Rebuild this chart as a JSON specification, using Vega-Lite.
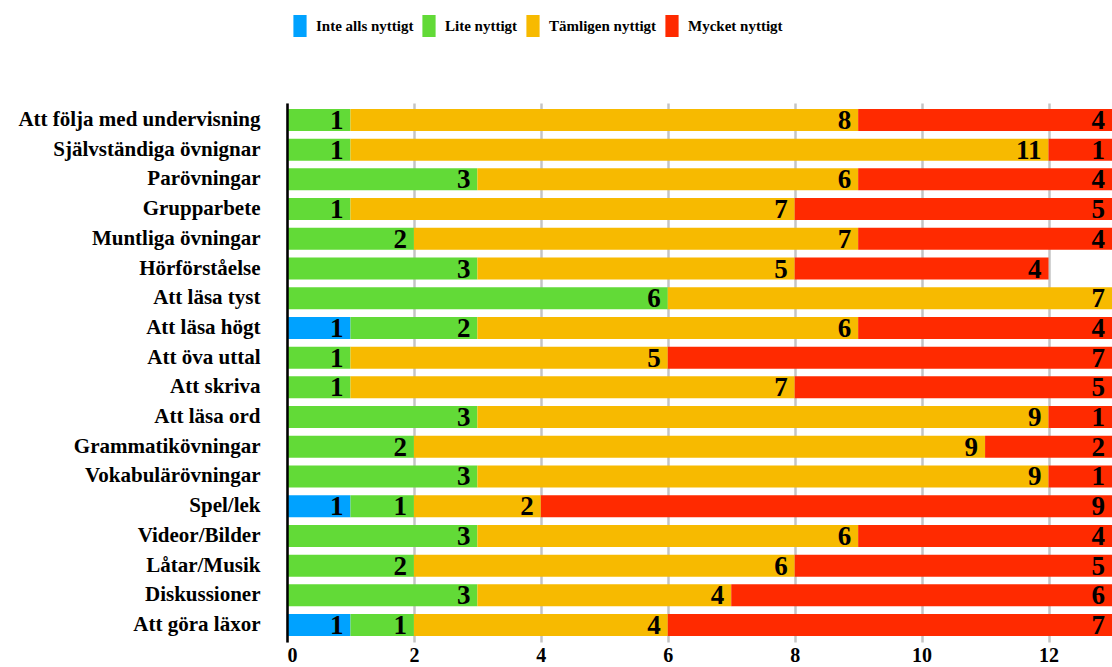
{
  "$schema": "https://vega.github.io/schema/vega-lite/v6.json",
  "autosize": {"type": "none"},
  "padding": {"left": 287, "top": 103, "right": 0, "bottom": 25},
  "width": 825,
  "height": 539,
  "background": "white",
  "config": {
    "view": {"stroke": null},
    "font": "Liberation Serif"
  },
  "data": {
    "values": [
      {"cat": "Att följa med undervisning", "s": "Inte alls nyttigt", "k": 1, "v": 0},
      {"cat": "Att följa med undervisning", "s": "Lite nyttigt", "k": 2, "v": 1},
      {"cat": "Att följa med undervisning", "s": "Tämligen nyttigt", "k": 3, "v": 8},
      {"cat": "Att följa med undervisning", "s": "Mycket  nyttigt", "k": 4, "v": 4},
      {"cat": "Självständiga övnignar", "s": "Inte alls nyttigt", "k": 1, "v": 0},
      {"cat": "Självständiga övnignar", "s": "Lite nyttigt", "k": 2, "v": 1},
      {"cat": "Självständiga övnignar", "s": "Tämligen nyttigt", "k": 3, "v": 11},
      {"cat": "Självständiga övnignar", "s": "Mycket  nyttigt", "k": 4, "v": 1},
      {"cat": "Parövningar", "s": "Inte alls nyttigt", "k": 1, "v": 0},
      {"cat": "Parövningar", "s": "Lite nyttigt", "k": 2, "v": 3},
      {"cat": "Parövningar", "s": "Tämligen nyttigt", "k": 3, "v": 6},
      {"cat": "Parövningar", "s": "Mycket  nyttigt", "k": 4, "v": 4},
      {"cat": "Grupparbete", "s": "Inte alls nyttigt", "k": 1, "v": 0},
      {"cat": "Grupparbete", "s": "Lite nyttigt", "k": 2, "v": 1},
      {"cat": "Grupparbete", "s": "Tämligen nyttigt", "k": 3, "v": 7},
      {"cat": "Grupparbete", "s": "Mycket  nyttigt", "k": 4, "v": 5},
      {"cat": "Muntliga övningar", "s": "Inte alls nyttigt", "k": 1, "v": 0},
      {"cat": "Muntliga övningar", "s": "Lite nyttigt", "k": 2, "v": 2},
      {"cat": "Muntliga övningar", "s": "Tämligen nyttigt", "k": 3, "v": 7},
      {"cat": "Muntliga övningar", "s": "Mycket  nyttigt", "k": 4, "v": 4},
      {"cat": "Hörförståelse", "s": "Inte alls nyttigt", "k": 1, "v": 0},
      {"cat": "Hörförståelse", "s": "Lite nyttigt", "k": 2, "v": 3},
      {"cat": "Hörförståelse", "s": "Tämligen nyttigt", "k": 3, "v": 5},
      {"cat": "Hörförståelse", "s": "Mycket  nyttigt", "k": 4, "v": 4},
      {"cat": "Att läsa tyst", "s": "Inte alls nyttigt", "k": 1, "v": 0},
      {"cat": "Att läsa tyst", "s": "Lite nyttigt", "k": 2, "v": 6},
      {"cat": "Att läsa tyst", "s": "Tämligen nyttigt", "k": 3, "v": 7},
      {"cat": "Att läsa tyst", "s": "Mycket  nyttigt", "k": 4, "v": 0},
      {"cat": "Att läsa högt", "s": "Inte alls nyttigt", "k": 1, "v": 1},
      {"cat": "Att läsa högt", "s": "Lite nyttigt", "k": 2, "v": 2},
      {"cat": "Att läsa högt", "s": "Tämligen nyttigt", "k": 3, "v": 6},
      {"cat": "Att läsa högt", "s": "Mycket  nyttigt", "k": 4, "v": 4},
      {"cat": "Att öva uttal", "s": "Inte alls nyttigt", "k": 1, "v": 0},
      {"cat": "Att öva uttal", "s": "Lite nyttigt", "k": 2, "v": 1},
      {"cat": "Att öva uttal", "s": "Tämligen nyttigt", "k": 3, "v": 5},
      {"cat": "Att öva uttal", "s": "Mycket  nyttigt", "k": 4, "v": 7},
      {"cat": "Att skriva", "s": "Inte alls nyttigt", "k": 1, "v": 0},
      {"cat": "Att skriva", "s": "Lite nyttigt", "k": 2, "v": 1},
      {"cat": "Att skriva", "s": "Tämligen nyttigt", "k": 3, "v": 7},
      {"cat": "Att skriva", "s": "Mycket  nyttigt", "k": 4, "v": 5},
      {"cat": "Att läsa ord", "s": "Inte alls nyttigt", "k": 1, "v": 0},
      {"cat": "Att läsa ord", "s": "Lite nyttigt", "k": 2, "v": 3},
      {"cat": "Att läsa ord", "s": "Tämligen nyttigt", "k": 3, "v": 9},
      {"cat": "Att läsa ord", "s": "Mycket  nyttigt", "k": 4, "v": 1},
      {"cat": "Grammatikövningar", "s": "Inte alls nyttigt", "k": 1, "v": 0},
      {"cat": "Grammatikövningar", "s": "Lite nyttigt", "k": 2, "v": 2},
      {"cat": "Grammatikövningar", "s": "Tämligen nyttigt", "k": 3, "v": 9},
      {"cat": "Grammatikövningar", "s": "Mycket  nyttigt", "k": 4, "v": 2},
      {"cat": "Vokabulärövningar", "s": "Inte alls nyttigt", "k": 1, "v": 0},
      {"cat": "Vokabulärövningar", "s": "Lite nyttigt", "k": 2, "v": 3},
      {"cat": "Vokabulärövningar", "s": "Tämligen nyttigt", "k": 3, "v": 9},
      {"cat": "Vokabulärövningar", "s": "Mycket  nyttigt", "k": 4, "v": 1},
      {"cat": "Spel/lek", "s": "Inte alls nyttigt", "k": 1, "v": 1},
      {"cat": "Spel/lek", "s": "Lite nyttigt", "k": 2, "v": 1},
      {"cat": "Spel/lek", "s": "Tämligen nyttigt", "k": 3, "v": 2},
      {"cat": "Spel/lek", "s": "Mycket  nyttigt", "k": 4, "v": 9},
      {"cat": "Videor/Bilder", "s": "Inte alls nyttigt", "k": 1, "v": 0},
      {"cat": "Videor/Bilder", "s": "Lite nyttigt", "k": 2, "v": 3},
      {"cat": "Videor/Bilder", "s": "Tämligen nyttigt", "k": 3, "v": 6},
      {"cat": "Videor/Bilder", "s": "Mycket  nyttigt", "k": 4, "v": 4},
      {"cat": "Låtar/Musik", "s": "Inte alls nyttigt", "k": 1, "v": 0},
      {"cat": "Låtar/Musik", "s": "Lite nyttigt", "k": 2, "v": 2},
      {"cat": "Låtar/Musik", "s": "Tämligen nyttigt", "k": 3, "v": 6},
      {"cat": "Låtar/Musik", "s": "Mycket  nyttigt", "k": 4, "v": 5},
      {"cat": "Diskussioner", "s": "Inte alls nyttigt", "k": 1, "v": 0},
      {"cat": "Diskussioner", "s": "Lite nyttigt", "k": 2, "v": 3},
      {"cat": "Diskussioner", "s": "Tämligen nyttigt", "k": 3, "v": 4},
      {"cat": "Diskussioner", "s": "Mycket  nyttigt", "k": 4, "v": 6},
      {"cat": "Att göra läxor", "s": "Inte alls nyttigt", "k": 1, "v": 1},
      {"cat": "Att göra läxor", "s": "Lite nyttigt", "k": 2, "v": 1},
      {"cat": "Att göra läxor", "s": "Tämligen nyttigt", "k": 3, "v": 4},
      {"cat": "Att göra läxor", "s": "Mycket  nyttigt", "k": 4, "v": 7}
    ]
  },
  "transform": [
    {"stack": "v", "groupby": ["cat"], "sort": [{"field": "k"}], "as": ["x0", "x1"]}
  ],
  "encoding": {
    "y": {
      "field": "cat",
      "type": "nominal",
      "sort": null,
      "title": null,
      "scale": {"paddingInner": 0.26, "paddingOuter": 0.2},
      "axis": {
        "domain": true,
        "domainColor": "black",
        "domainWidth": 2.5,
        "ticks": false,
        "grid": false,
        "labelFont": "Liberation Serif",
        "labelFontWeight": "bold",
        "labelFontSize": 21,
        "labelColor": "black",
        "labelPadding": 27,
        "labelLimit": 400,
        "zindex": 2
      }
    }
  },
  "layer": [
    {
      "mark": {"type": "bar", "cornerRadius": 0},
      "encoding": {
        "x": {
          "field": "x0",
          "type": "quantitative",
          "scale": {"domain": [0, 13], "nice": false},
          "title": null,
          "axis": {
            "values": [0, 2, 4, 6, 8, 10, 12],
            "format": "d",
            "domain": false,
            "ticks": false,
            "grid": true,
            "gridColor": "#c4c4c4",
            "gridWidth": 2.5,
            "labelFont": "Liberation Serif",
            "labelFontWeight": "bold",
            "labelFontSize": 20,
            "labelColor": "black",
            "labelPadding": 3,
            "labelBaseline": "top",
            "zindex": 0
          }
        },
        "x2": {"field": "x1"},
        "color": {
          "field": "s",
          "type": "nominal",
          "sort": ["Inte alls nyttigt", "Lite nyttigt", "Tämligen nyttigt", "Mycket  nyttigt"],
          "scale": {
            "domain": ["Inte alls nyttigt", "Lite nyttigt", "Tämligen nyttigt", "Mycket  nyttigt"],
            "range": ["#00A2FF", "#62DA37", "#F7BA00", "#FF2A00"]
          },
          "legend": {
            "title": null,
            "orient": "none",
            "direction": "horizontal",
            "legendX": 2,
            "legendY": -88,
            "padding": 0,
            "symbolType": "M-0.6,-1H0.6V1H-0.6Z",
            "symbolSize": 484,
            "symbolStrokeWidth": 0,
            "symbolOpacity": 1,
            "labelFont": "Liberation Serif",
            "labelFontWeight": "bold",
            "labelFontSize": 15,
            "labelColor": "black",
            "labelOffset": 5,
            "columnPadding": 4,
            "labelLimit": 300
          }
        }
      }
    },
    {
      "transform": [{"filter": "datum.v > 0"}],
      "mark": {
        "type": "text",
        "align": "right",
        "baseline": "middle",
        "dx": -7,
        "dy": 1,
        "font": "Liberation Serif",
        "fontWeight": "bold",
        "fontSize": 27,
        "color": "black"
      },
      "encoding": {
        "x": {"field": "x1", "type": "quantitative"},
        "text": {"field": "v", "type": "quantitative"}
      }
    }
  ]
}
